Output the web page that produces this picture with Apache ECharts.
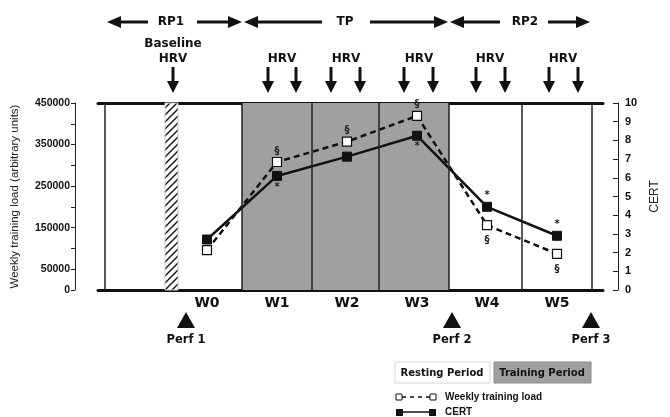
<!DOCTYPE html>
<html>
<head>
<meta charset="utf-8">
<script src="https://cdn.jsdelivr.net/npm/echarts@6/dist/echarts.min.js"></script>
<style>html,body{margin:0;padding:0;background:#fff;}#c{width:670px;height:417px;}</style>
</head>
<body>
<div id="c"></div>
<script>
// ---- data ----
const weeks = ['W0', 'W1', 'W2', 'W3', 'W4', 'W5'];
const weekPos = [0, 1, 2, 3, 4, 5];
const trainingLoad = [96000, 308000, 357000, 419000, 156000, 87000];
const cert = [2.7, 6.1, 7.13, 8.25, 4.45, 2.9];
const loadMarks = ['', '§', '§', '§', '§', '§'];
const loadMarkPos = ['top', 'top', 'top', 'top', 'bottom', 'bottom'];
const certMarks = ['', '*', '', '*', '*', '*'];
const certMarkPos = ['bottom', 'bottom', 'bottom', 'bottom', 'top', 'top'];
const loadTickLabels = [0, 50000, 150000, 250000, 350000, 450000];
const weekBounds = [-1.457, 0.5, 1.5, 2.457, 3.457, 4.486, 5.5];
const trainingPeriod = [0.5, 3.457];
const baselinePeriod = [-0.6, -0.414];

// hatch pattern
const pc = document.createElement('canvas');
pc.width = 7; pc.height = 7;
const pctx = pc.getContext('2d');
pctx.fillStyle = '#fff'; pctx.fillRect(0, 0, 7, 7);
pctx.strokeStyle = '#111'; pctx.lineWidth = 1.4;
pctx.beginPath();
pctx.moveTo(-1, 8); pctx.lineTo(8, -1);
pctx.moveTo(-1, 1); pctx.lineTo(1, -1);
pctx.moveTo(6, 8); pctx.lineTo(8, 6);
pctx.stroke();

const BF = '"DejaVu Sans", sans-serif';
const AF = '"Liberation Sans", Arial, sans-serif';

function txt(t, x, y, font, fill) {
  return { type: 'text', x: x, y: y, silent: true,
    style: { text: t, x: 0, y: 0, font: font, fill: fill || '#111',
      textAlign: 'center', textVerticalAlign: 'middle', align: 'center', verticalAlign: 'middle' } };
}
function hArrow(tipX, y, dir, tailX) {
  const hl = 14, hh = 6;
  const baseX = tipX - dir * hl;
  return [
    { type: 'line', silent: true, shape: { x1: tailX, y1: y, x2: baseX, y2: y }, style: { stroke: '#111', lineWidth: 3 } },
    { type: 'polygon', silent: true, shape: { points: [[tipX, y], [baseX, y - hh], [baseX, y + hh]] }, style: { fill: '#111' } }
  ];
}
function vArrow(x) {
  return [
    { type: 'line', silent: true, shape: { x1: x, y1: 67, x2: x, y2: 82 }, style: { stroke: '#111', lineWidth: 3 } },
    { type: 'polygon', silent: true, shape: { points: [[x - 6, 81], [x + 6, 81], [x, 93]] }, style: { fill: '#111' } }
  ];
}
function upTri(x) {
  return { type: 'polygon', silent: true, shape: { points: [[x - 9, 328], [x + 9, 328], [x, 312]] }, style: { fill: '#111' } };
}

const g = [];
// period arrows
g.push(...hArrow(107, 22, -1, 148), ...hArrow(242, 22, 1, 197));
g.push(...hArrow(244, 22, -1, 322), ...hArrow(448, 22, 1, 370));
g.push(...hArrow(450, 22, -1, 500), ...hArrow(590, 22, 1, 548));
g.push(txt('RP1', 171, 22, 'bold 12px ' + BF), txt('TP', 345, 22, 'bold 12px ' + BF), txt('RP2', 525, 22, 'bold 12px ' + BF));
g.push(txt('Baseline', 173, 44, 'bold 12px ' + BF), txt('HRV', 173, 59, 'bold 12px ' + BF));
[282, 346, 419, 490, 563].forEach(x => g.push(txt('HRV', x, 59, 'bold 12px ' + BF)));
[173, 268, 296, 331, 360, 404, 433, 476, 505, 549, 578].forEach(x => g.push(...vArrow(x)));
// perf
[[186, 'Perf 1'], [452, 'Perf 2'], [591, 'Perf 3']].forEach(p => {
  g.push(upTri(p[0]), txt(p[1], p[0], 340, 'bold 11.5px ' + BF));
});
// legend
g.push({ type: 'rect', silent: true, shape: { x: 395, y: 362, width: 95, height: 21 }, style: { fill: '#fff', stroke: '#d8d8d8', lineWidth: 1 } });
g.push(txt('Resting Period', 442, 373, 'bold 10px ' + BF));
g.push({ type: 'rect', silent: true, shape: { x: 494, y: 362, width: 97, height: 21 }, style: { fill: '#a0a0a0', stroke: '#8a8a8a', lineWidth: 1 } });
g.push(txt('Training Period', 542, 373, 'bold 10px ' + BF));
g.push({ type: 'line', silent: true, shape: { x1: 402, y1: 397, x2: 430, y2: 397 }, style: { stroke: '#111', lineWidth: 1.5, lineDash: [4, 4] } });
g.push({ type: 'rect', silent: true, shape: { x: 396, y: 394, width: 6, height: 6 }, style: { fill: '#fff', stroke: '#111', lineWidth: 1 } });
g.push({ type: 'rect', silent: true, shape: { x: 430, y: 394, width: 6, height: 6 }, style: { fill: '#fff', stroke: '#111', lineWidth: 1 } });
g.push({ type: 'text', silent: true, x: 445, y: 397, style: { text: 'Weekly training load', x: 0, y: 0, font: 'bold 10px ' + AF, fill: '#111', textAlign: 'left', align: 'left', textVerticalAlign: 'middle', verticalAlign: 'middle' } });
g.push({ type: 'line', silent: true, shape: { x1: 400, y1: 412, x2: 432, y2: 412 }, style: { stroke: '#111', lineWidth: 1.5 } });
g.push({ type: 'rect', silent: true, shape: { x: 396, y: 409, width: 7, height: 7 }, style: { fill: '#111' } });
g.push({ type: 'rect', silent: true, shape: { x: 429, y: 409, width: 7, height: 7 }, style: { fill: '#111' } });
g.push({ type: 'text', silent: true, x: 445, y: 412, style: { text: 'CERT', x: 0, y: 0, font: 'bold 10px ' + AF, fill: '#111', textAlign: 'left', align: 'left', textVerticalAlign: 'middle', verticalAlign: 'middle' } });

const loadData = weekPos.map((x, i) => ({
  value: [x, trainingLoad[i]],
  label: { show: !!loadMarks[i], formatter: loadMarks[i], position: loadMarkPos[i], distance: loadMarkPos[i] === 'top' ? 1 : 5 }
}));
const certData = weekPos.map((x, i) => ({
  value: [x, cert[i]],
  label: { show: !!certMarks[i], formatter: certMarks[i], position: certMarkPos[i], distance: 1 }
}));

const chart = echarts.init(document.getElementById('c'), null, { renderer: 'canvas' });
chart.setOption({
  animation: false,
  backgroundColor: '#fff',
  grid: { left: 98, top: 103, width: 505, height: 187 },
  xAxis: [
    { type: 'value', min: -1.557, max: 5.657, position: 'bottom',
      axisLine: { show: true, onZero: false, lineStyle: { color: '#111', width: 3 } },
      axisTick: { show: false }, splitLine: { show: false },
      axisLabel: { customValues: weekPos, formatter: v => weeks[Math.round(v)], margin: 6,
        fontFamily: BF, fontWeight: 'bold', fontSize: 14, color: '#111' } },
    { type: 'value', min: -1.557, max: 5.657, position: 'top',
      axisLine: { show: true, onZero: false, lineStyle: { color: '#111', width: 3 } },
      axisTick: { show: false }, splitLine: { show: false }, axisLabel: { show: false } }
  ],
  yAxis: [
    { type: 'value', min: 0, max: 450000, interval: 50000, position: 'left', offset: 23,
      name: 'Weekly training load (arbitrary units)', nameLocation: 'middle', nameGap: 54, nameRotate: 90,
      nameTextStyle: { fontFamily: AF, fontSize: 11.5, color: '#222' },
      axisLine: { show: true, onZero: false, lineStyle: { color: '#222', width: 1 } },
      axisTick: { show: true, length: 4, lineStyle: { color: '#222' } },
      splitLine: { show: false },
      axisLabel: { margin: 5, fontFamily: AF, fontWeight: 'bold', fontSize: 10.5, color: '#111',
        formatter: v => (loadTickLabels.indexOf(v) >= 0 ? String(v) : '') } },
    { type: 'value', min: 0, max: 10, interval: 1, position: 'right', offset: 15,
      name: 'CERT', nameLocation: 'middle', nameGap: 31, nameRotate: 90,
      nameTextStyle: { fontFamily: AF, fontSize: 12, color: '#222' },
      axisLine: { show: true, onZero: false, lineStyle: { color: '#222', width: 1 } },
      axisTick: { show: true, inside: true, length: 5, lineStyle: { color: '#222' } },
      splitLine: { show: false },
      axisLabel: { margin: 7, fontFamily: AF, fontWeight: 'bold', fontSize: 11, color: '#111' } }
  ],
  series: [
    { type: 'line', name: 'bg', data: [], z: 1, silent: true,
      markArea: { silent: true, label: { show: false },
        data: [
          [{ xAxis: trainingPeriod[0], itemStyle: { color: '#a0a0a0' } }, { xAxis: trainingPeriod[1] }],
          [{ xAxis: baselinePeriod[0], itemStyle: { color: { image: pc, repeat: 'repeat' }, borderColor: '#cfcfcf', borderWidth: 1 } }, { xAxis: baselinePeriod[1] }]
        ] },
      markLine: { silent: true, symbol: ['none', 'none'], label: { show: false },
        lineStyle: { color: '#222', width: 1.5, type: 'solid' },
        data: weekBounds.map(b => ({ xAxis: b })) } },
    { type: 'line', name: 'CERT', xAxisIndex: 0, yAxisIndex: 1, data: certData, z: 3,
      symbol: 'rect', symbolSize: 9, showAllSymbol: true,
      lineStyle: { color: '#111', width: 2.5, type: 'solid' },
      itemStyle: { color: '#111', borderColor: '#111', borderWidth: 1 },
      label: { color: '#222', fontFamily: BF, fontSize: 10, fontWeight: 'bold' } },
    { type: 'line', name: 'Weekly training load', xAxisIndex: 0, yAxisIndex: 0, data: loadData, z: 4,
      symbol: 'rect', symbolSize: 9, showAllSymbol: true,
      lineStyle: { color: '#111', width: 2.5, type: [6, 4] },
      itemStyle: { color: '#fff', borderColor: '#111', borderWidth: 1.2 },
      label: { color: '#222', fontFamily: BF, fontSize: 10, fontWeight: 'bold' } }
  ],
  graphic: { elements: g }
});
</script>
</body>
</html>
